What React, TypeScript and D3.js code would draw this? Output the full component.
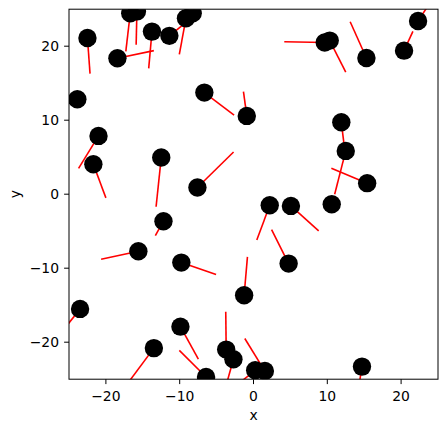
import React from "react";
import * as d3 from "d3";

// point positions
const pointX = [-23.87, -22.5, -18.44, -13.76, -16.7, -15.8, -11.4, -9.15, -8.24, -6.66, -0.91, -7.6, -12.5, -12.2, -21.0, -21.7, -15.6, -9.78, -23.5, -9.9, -13.5, -6.43, -3.7, -2.72, 0.23, 1.54, -1.27, 4.76, 2.2, 5.07, 11.9, 12.5, 10.6, 15.4, 9.65, 10.33, 15.3, 20.4, 22.3, 14.7];
const pointY = [12.84, 21.1, 18.38, 21.97, 24.45, 24.7, 21.4, 23.78, 24.46, 13.73, 10.58, 0.9, 4.95, -3.65, 7.88, 4.05, -7.7, -9.24, -15.5, -17.9, -20.8, -24.7, -21.0, -22.3, -23.8, -23.9, -13.65, -9.38, -1.49, -1.58, 9.73, 5.85, -1.35, 1.49, 20.5, 20.76, 18.4, 19.4, 23.4, -23.3];
// line end positions
const endX = [-23.9, -22.15, -13.5, -14.2, -17.3, -15.9, -8.8, -10.05, -8.0, -2.63, -1.36, -2.7, -13.2, -13.3, -23.7, -20.0, -20.65, -5.07, -25.8, -7.47, -17.0, -10.05, -3.76, -3.7, -1.9, -1.18, -0.82, 2.45, 0.45, 8.83, 12.3, 11.0, 10.7, 10.55, 4.17, 12.5, 13.1, 21.6, 24.0, 14.3];
const endY = [12.8, 16.3, 19.4, 17.0, 19.3, 20.2, 23.5, 18.9, 24.9, 10.7, 13.87, 5.7, -1.7, -5.6, 3.5, -0.5, -8.8, -10.86, -18.4, -22.3, -25.5, -21.1, -15.9, -25.8, -25.5, -19.5, -8.47, -4.78, -6.2, -4.96, 6.5, 0.0, -0.9, 3.5, 20.6, 16.5, 23.3, 22.0, 26.0, -25.8];

const xTicks = [-20, -10, 0, 10, 20];
const yTicks = [-20, -10, 0, 10, 20];
const xLabel = "x";
const yLabel = "y";

export default function App() {
  const W = 448, H = 432;
  const x = d3.scaleLinear().domain([-25, 25]).range([69.0, 438.0]);
  const y = d3.scaleLinear().domain([-25, 25]).range([379.2, 9.2]);
  const [x0, x1] = x.range();
  const [y0, y1] = y.range();
  const font = "'DejaVu Sans', sans-serif";
  const fmt = (v: number) => (v < 0 ? "\u2212" + Math.abs(v) : String(v));
  return (
    <svg width={W} height={H} style={{ position: "absolute", left: 0, top: 0, background: "#fff" }}>
      <defs>
        <clipPath id="plotclip">
          <rect x={x0} y={y1} width={x1 - x0} height={y0 - y1} />
        </clipPath>
      </defs>
      <g clipPath="url(#plotclip)">
        {pointX.map((px, i) => (
          <line key={"l" + i} x1={x(px)} y1={y(pointY[i])} x2={x(endX[i])} y2={y(endY[i])} stroke="#ff0000" strokeWidth={1.6} />
        ))}
        {pointX.map((px, i) => (
          <circle key={"c" + i} cx={x(px)} cy={y(pointY[i])} r={9.2} fill="#000" />
        ))}
      </g>
      <rect x={x0} y={y1} width={x1 - x0} height={y0 - y1} fill="none" stroke="#000" strokeWidth={1} />
      {xTicks.map((t) => (
        <g key={"xt" + t}>
          <line x1={x(t)} x2={x(t)} y1={y0} y2={y0 + 4.9} stroke="#000" strokeWidth={1} />
          <text x={x(t)} y={400.5} textAnchor="middle" fontFamily={font} fontSize={13.9} fill="#000">{fmt(t)}</text>
        </g>
      ))}
      {yTicks.map((t) => (
        <g key={"yt" + t}>
          <line x1={x0 - 4.9} x2={x0} y1={y(t)} y2={y(t)} stroke="#000" strokeWidth={1} />
          <text x={59} y={y(t) + 5} textAnchor="end" fontFamily={font} fontSize={13.9} fill="#000">{fmt(t)}</text>
        </g>
      ))}
      <text x={(x0 + x1) / 2} y={419.5} textAnchor="middle" fontFamily={font} fontSize={13.9} fill="#000">{xLabel}</text>
      <text transform={`translate(20, ${(y0 + y1) / 2}) rotate(-90)`} textAnchor="middle" fontFamily={font} fontSize={13.9} fill="#000">{yLabel}</text>
    </svg>
  );
}
